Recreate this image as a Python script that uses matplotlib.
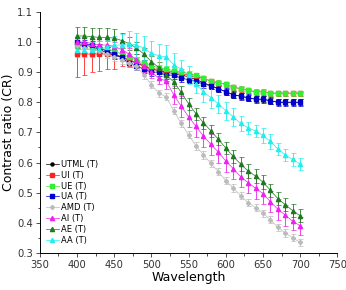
import matplotlib
matplotlib.use("Agg")
import matplotlib.pyplot as plt
from matplotlib.ticker import MultipleLocator

wavelength = [400, 410, 420, 430, 440, 450, 460, 470, 480, 490, 500, 510, 520, 530, 540, 550,
              560, 570, 580, 590, 600, 610, 620, 630, 640, 650, 660, 670, 680, 690, 700]

utml = [0.99, 0.99, 0.985, 0.975, 0.965, 0.955, 0.95, 0.94, 0.93, 0.92, 0.91, 0.905, 0.9, 0.895, 0.89, 0.885,
        0.875, 0.865, 0.855, 0.845, 0.835, 0.825, 0.82, 0.815, 0.81, 0.81, 0.805, 0.8, 0.8, 0.8, 0.8]
utml_err = [0.01, 0.01, 0.01, 0.01, 0.01, 0.01, 0.01, 0.01, 0.01, 0.01, 0.01, 0.01, 0.01, 0.01, 0.01, 0.01,
            0.01, 0.01, 0.01, 0.01, 0.01, 0.01, 0.01, 0.01, 0.01, 0.01, 0.01, 0.01, 0.01, 0.01, 0.01]

ui = [0.96, 0.96, 0.96, 0.96, 0.96, 0.96, 0.95, 0.94, 0.93, 0.92, 0.91, 0.91, 0.905, 0.9, 0.895, 0.89,
      0.885, 0.88, 0.87, 0.865, 0.86, 0.85, 0.845, 0.84, 0.835, 0.835, 0.83, 0.83, 0.83, 0.83, 0.83]
ui_err_low = [0.075, 0.07, 0.06, 0.055, 0.05, 0.05, 0.03, 0.02, 0.015, 0.015, 0.01, 0.01, 0.01, 0.01, 0.01, 0.01,
              0.01, 0.01, 0.01, 0.01, 0.01, 0.01, 0.01, 0.01, 0.01, 0.01, 0.01, 0.01, 0.01, 0.01, 0.01]
ui_err_high = [0.005, 0.005, 0.005, 0.005, 0.005, 0.005, 0.005, 0.005, 0.005, 0.005, 0.005, 0.005, 0.005, 0.005, 0.005, 0.005,
               0.005, 0.005, 0.005, 0.005, 0.005, 0.005, 0.005, 0.005, 0.005, 0.005, 0.005, 0.005, 0.005, 0.005, 0.005]

ue = [0.99, 0.99, 0.985, 0.98, 0.975, 0.97, 0.96, 0.95, 0.94, 0.93, 0.92, 0.915, 0.91, 0.905, 0.9, 0.895,
      0.89, 0.88, 0.87, 0.865, 0.86, 0.85, 0.845, 0.84, 0.835, 0.835, 0.83, 0.83, 0.83, 0.83, 0.83]
ue_err = [0.01, 0.01, 0.01, 0.01, 0.01, 0.01, 0.01, 0.01, 0.01, 0.01, 0.01, 0.01, 0.01, 0.01, 0.01, 0.008,
          0.008, 0.008, 0.008, 0.008, 0.008, 0.008, 0.008, 0.008, 0.008, 0.008, 0.008, 0.008, 0.008, 0.008, 0.008]

ua = [1.0, 0.995, 0.99, 0.98, 0.97, 0.96, 0.95, 0.93, 0.92, 0.91, 0.9, 0.9, 0.89, 0.89, 0.88, 0.875,
      0.87, 0.86, 0.855, 0.845, 0.835, 0.825, 0.82, 0.815, 0.81, 0.81, 0.805, 0.8, 0.8, 0.8, 0.8]
ua_err = [0.012, 0.012, 0.012, 0.012, 0.012, 0.012, 0.012, 0.012, 0.012, 0.012, 0.012, 0.012, 0.012, 0.012, 0.012, 0.012,
          0.012, 0.012, 0.012, 0.012, 0.012, 0.012, 0.012, 0.012, 0.012, 0.012, 0.012, 0.012, 0.012, 0.012, 0.012]

amd = [0.99, 0.98, 0.975, 0.97, 0.96, 0.95, 0.94, 0.93, 0.92, 0.89, 0.858, 0.83, 0.818, 0.772, 0.73, 0.692,
       0.655, 0.625, 0.597, 0.57, 0.54, 0.515, 0.49, 0.467, 0.45, 0.432, 0.41, 0.385, 0.366, 0.35, 0.335]
amd_err = [0.012, 0.012, 0.012, 0.012, 0.012, 0.012, 0.012, 0.012, 0.012, 0.012, 0.012, 0.012, 0.012, 0.012, 0.012, 0.012,
           0.012, 0.012, 0.012, 0.012, 0.012, 0.012, 0.012, 0.012, 0.012, 0.012, 0.012, 0.012, 0.012, 0.012, 0.012]

ai = [1.0, 1.0, 0.995, 0.99, 0.99, 0.985, 0.975, 0.96, 0.94, 0.92, 0.9, 0.88, 0.87, 0.825, 0.787, 0.752,
      0.72, 0.688, 0.66, 0.635, 0.605, 0.58, 0.553, 0.533, 0.515, 0.497, 0.47, 0.445, 0.425, 0.405, 0.39]
ai_err = [0.015, 0.015, 0.015, 0.015, 0.015, 0.015, 0.02, 0.02, 0.02, 0.02, 0.02, 0.02, 0.025, 0.03, 0.035, 0.035,
          0.035, 0.035, 0.035, 0.035, 0.035, 0.035, 0.035, 0.035, 0.035, 0.035, 0.035, 0.035, 0.035, 0.03, 0.03]

ae = [1.02, 1.02, 1.018, 1.015, 1.015, 1.013, 1.005, 0.995, 0.98, 0.96, 0.935, 0.915, 0.89, 0.868, 0.833, 0.795,
      0.762, 0.732, 0.705, 0.677, 0.648, 0.62, 0.595, 0.572, 0.555, 0.535, 0.508, 0.48, 0.46, 0.44, 0.423]
ae_err = [0.03, 0.03, 0.03, 0.03, 0.03, 0.03, 0.025, 0.02, 0.02, 0.02, 0.02, 0.02, 0.02, 0.02, 0.02, 0.02,
          0.02, 0.02, 0.02, 0.02, 0.02, 0.02, 0.022, 0.022, 0.022, 0.022, 0.022, 0.022, 0.022, 0.022, 0.022]

aa = [0.975, 0.975, 0.975, 0.978, 0.982, 0.99, 0.99, 0.995, 0.99, 0.98, 0.962, 0.955, 0.95, 0.925, 0.91, 0.89,
      0.86, 0.835, 0.815, 0.795, 0.772, 0.752, 0.73, 0.715, 0.705, 0.69, 0.67, 0.645, 0.625, 0.61, 0.595]
aa_err = [0.025, 0.025, 0.025, 0.025, 0.025, 0.03, 0.035, 0.04, 0.04, 0.04, 0.04, 0.04, 0.04, 0.04, 0.03, 0.03,
          0.03, 0.035, 0.035, 0.03, 0.03, 0.03, 0.025, 0.02, 0.02, 0.025, 0.025, 0.02, 0.02, 0.02, 0.02]

fig = plt.figure(figsize=(3.46, 2.90), dpi=100)
ax = fig.add_axes([0.115, 0.128, 0.86, 0.831])

series = [
    ("UTML (T)", utml, utml_err, "black", "o", 2.2),
    ("UI (T)", ui, [ui_err_low, ui_err_high], "#ff2020", "s", 2.2),
    ("UE (T)", ue, ue_err, "#33ee33", "s", 2.2),
    ("UA (T)", ua, ua_err, "#0000cc", "s", 2.2),
    ("AMD (T)", amd, amd_err, "#bbbbbb", "P", 2.6),
    ("AI (T)", ai, ai_err, "#ee22ee", "^", 3.0),
    ("AE (T)", ae, ae_err, "#1e7a1e", "^", 3.0),
    ("AA (T)", aa, aa_err, "#22eeee", "^", 3.0),
]

for label, vals, err, col, mk, ms in series:
    ax.errorbar(wavelength, vals, yerr=err, color=col, marker=mk, markersize=ms,
                linewidth=0.5, elinewidth=0.6, capsize=1.8, capthick=0.5, label=label)

ax.set_xlim(350, 750)
ax.set_ylim(0.3, 1.1)
ax.xaxis.set_major_locator(MultipleLocator(50))
ax.xaxis.set_minor_locator(MultipleLocator(25))
ax.yaxis.set_major_locator(MultipleLocator(0.1))
ax.yaxis.set_minor_locator(MultipleLocator(0.05))
ax.tick_params(which="major", direction="out", length=3, width=0.6, labelsize=7.2,
               colors="#333333", pad=2)
ax.tick_params(which="minor", direction="out", length=1.8, width=0.5)
ax.spines["top"].set_visible(False)
ax.spines["right"].set_visible(False)
ax.spines["left"].set_linewidth(0.7)
ax.spines["bottom"].set_linewidth(0.7)

ax.set_xlabel("Wavelength", fontsize=9, labelpad=1)
ax.set_ylabel("Contrast ratio (CR)", fontsize=9, labelpad=1)

handles, labels = ax.get_legend_handles_labels()
handles = [h[0] for h in handles]
ax.legend(handles, labels, loc="upper left", bbox_to_anchor=(0.0, 0.41), frameon=False,
          fontsize=6.0, handlelength=1.6, handletextpad=0.3, labelspacing=0.22, borderaxespad=0.3)

fig.savefig("out.png", dpi=100)
